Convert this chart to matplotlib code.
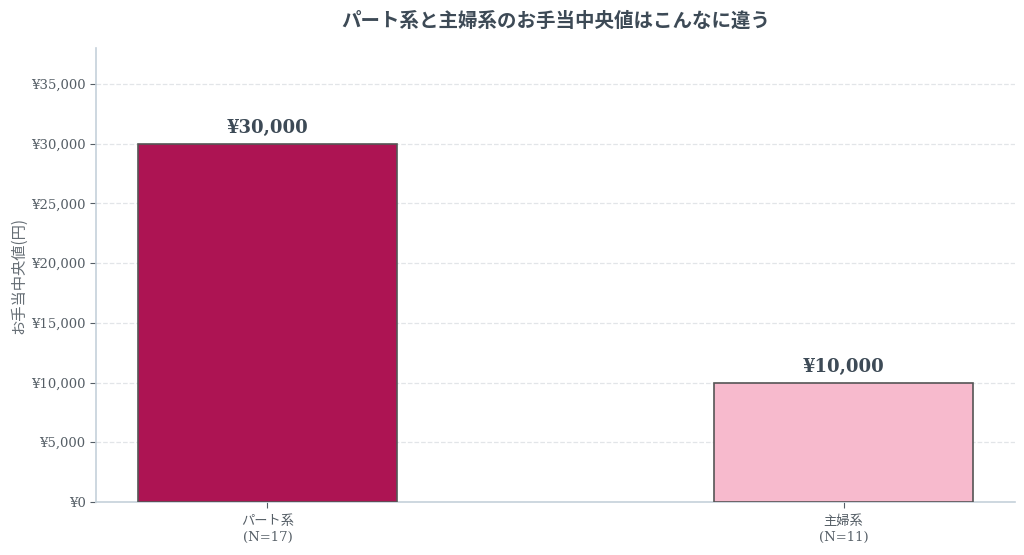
import matplotlib
matplotlib.use("Agg")
import matplotlib.pyplot as plt
from matplotlib.ticker import FuncFormatter

# Data
categories = ["パート系", "主婦系"]
counts = [17, 11]
medians = [30000, 10000]
colors = ["#AD1453", "#F7BACD"]

plt.rcParams['font.family'] = ['DejaVu Serif', 'Noto Sans CJK JP']
text_col = "#3D4A56"
spine_col = "#C5D1DA"

fig = plt.figure(figsize=(10.24, 5.55), dpi=100)
ax = fig.add_axes([96/1024, 1 - 502/555, (1015-96)/1024, (502-48)/555])

labels = [f"{c}\n(N={n})" for c, n in zip(categories, counts)]
x = range(len(categories))
bars = ax.bar(x, medians, width=0.45, color=colors, edgecolor="#555555", linewidth=1.2, zorder=3)

for b, v in zip(bars, medians):
    ax.annotate(f"¥{v:,}", (b.get_x() + b.get_width()/2, v), xytext=(0, 5),
                textcoords="offset points", ha="center", va="bottom",
                fontsize=13, fontweight="bold", color=text_col)

ax.set_ylim(0, 38000)
ax.set_yticks(range(0, 35001, 5000))
ax.yaxis.set_major_formatter(FuncFormatter(lambda v, p: f"¥{int(v):,}"))
ax.set_xticks(list(x))
ax.set_xticklabels(labels, fontsize=9.5, color="#555E66", linespacing=1.35)
ax.tick_params(axis="y", labelsize=9.5, labelcolor="#555E66", color="#555E66", length=4)
ax.tick_params(axis="x", color="#555E66", length=4, pad=5)

ax.set_ylabel("お手当中央値(円)", fontsize=11, color="#666E75",
              family=['Noto Sans CJK JP'], labelpad=3)
ax.set_title("パート系と主婦系のお手当中央値はこんなに違う", fontsize=14,
             fontweight="bold", color=text_col, pad=15)

ax.grid(axis="y", linestyle="--", color="#E2E5E8", linewidth=0.9, zorder=0)
ax.set_axisbelow(True)
for s in ["top", "right"]:
    ax.spines[s].set_visible(False)
for s in ["left", "bottom"]:
    ax.spines[s].set_color(spine_col)
    ax.spines[s].set_linewidth(1.2)

fig.savefig("out.png", dpi=100)
